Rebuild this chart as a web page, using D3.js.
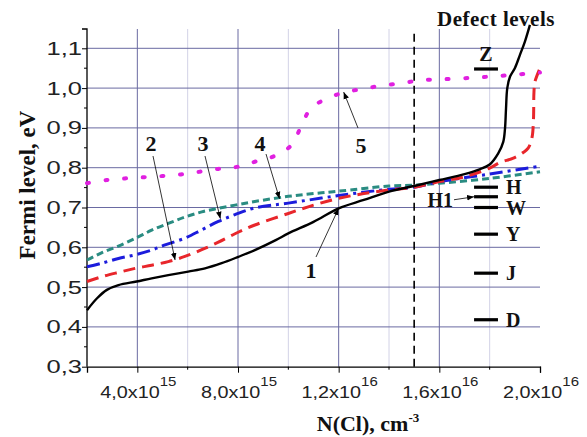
<!DOCTYPE html>
<html>
<head>
<meta charset="utf-8">
<script src="https://cdn.jsdelivr.net/npm/d3@7"></script>
<style>
  body { margin: 0; background: #fff; }
  .tick-label { font-family: "Liberation Sans", Arial, sans-serif; fill: #222; }
  .bold-label { font-family: "Liberation Serif", "Times New Roman", serif; font-weight: bold; fill: #111; }
</style>
</head>
<body>
<script>
const width = 587;
const height = 437;

// N(Cl) in units of 1e15 cm^-3, Fermi level in eV
const curve1X = [2.0, 2.4, 2.79, 3.25, 3.97, 4.57, 5.23, 6.02, 6.69, 7.35, 8.01, 8.67, 9.5, 10, 11, 12, 13, 14, 15, 16, 17, 17.6, 18.0, 18.34, 18.54, 18.61, 18.65, 18.7, 18.81, 19.0, 19.2, 19.4, 19.6];
const curve1Y = [0.442, 0.472, 0.493, 0.505, 0.514, 0.522, 0.530, 0.539, 0.547, 0.560, 0.576, 0.593, 0.618, 0.635, 0.664, 0.698, 0.719, 0.740, 0.754, 0.769, 0.784, 0.796, 0.808, 0.836, 0.865, 0.899, 0.949, 1.000, 1.029, 1.050, 1.083, 1.117, 1.159];

const curve2X = [2.0, 2.58, 3.25, 3.91, 4.57, 5.23, 5.89, 6.56, 7.22, 7.88, 8.67, 10, 11, 12, 13, 14, 15, 16, 17, 18, 18.41, 18.94, 19.33, 19.53, 19.68, 19.74, 19.76, 19.8, 20.0];
const curve2Y = [0.514, 0.526, 0.537, 0.547, 0.555, 0.564, 0.577, 0.594, 0.613, 0.634, 0.656, 0.685, 0.706, 0.723, 0.735, 0.744, 0.751, 0.765, 0.777, 0.799, 0.813, 0.824, 0.838, 0.849, 0.875, 0.920, 0.990, 1.016, 1.050];

const curve3X = [2.0, 2.58, 3.25, 3.91, 4.57, 5.1, 5.89, 6.56, 7.22, 7.88, 8.67, 10, 12, 14, 15, 16, 18, 20];
const curve3Y = [0.551, 0.560, 0.572, 0.581, 0.593, 0.606, 0.623, 0.644, 0.665, 0.682, 0.699, 0.711, 0.730, 0.746, 0.751, 0.765, 0.784, 0.804];

const curve4X = [2.0, 2.58, 3.25, 3.97, 4.57, 5.23, 5.89, 6.56, 7.22, 7.88, 8.67, 10, 11, 12, 14, 15, 16, 18, 20];
const curve4Y = [0.568, 0.586, 0.603, 0.624, 0.643, 0.660, 0.676, 0.689, 0.698, 0.706, 0.715, 0.728, 0.735, 0.741, 0.754, 0.756, 0.761, 0.773, 0.790];

const curve5X = [2.0, 2.78, 3.51, 4.24, 4.99, 5.73, 6.49, 7.22, 7.95, 8.67, 9.4, 10.13, 10.5, 10.9, 11.65, 12.38, 13.11, 13.84, 14.57, 15.3, 16.02, 16.8, 17.55, 18.28, 19.07, 19.8, 20];
const curve5Y = [0.761, 0.769, 0.773, 0.776, 0.779, 0.783, 0.790, 0.797, 0.802, 0.815, 0.828, 0.857, 0.903, 0.949, 0.977, 0.991, 1.000, 1.007, 1.013, 1.020, 1.022, 1.024, 1.027, 1.030, 1.034, 1.038, 1.039];

const xTicks = [4, 8, 12, 16, 20];
const xTickLabels = ["4,0x10", "8,0x10", "1,2x10", "1,6x10", "2,0x10"];
const xTickPowers = ["15", "15", "16", "16", "16"];
const xMinor = [2, 6, 10, 14, 18];
const yTicks = [0.3, 0.4, 0.5, 0.6, 0.7, 0.8, 0.9, 1.0, 1.1];
const yTickLabels = ["0,3", "0,4", "0,5", "0,6", "0,7", "0,8", "0,9", "1,0", "1,1"];

const defectNames = ["Z", "H", "H1", "W", "Y", "J", "D"];
const defectLevels = [1.048, 0.751, 0.727, 0.700, 0.633, 0.535, 0.418];

const crossover = 15; // vertical dashed line

const x = d3.scaleLinear().domain([2, 20]).range([87, 540]);
const y = d3.scaleLinear().domain([0.3, 1.1]).range([366.7, 48.3]);
const yTop = 29;

const svg = d3.select("body").append("svg")
  .attr("width", width)
  .attr("height", height);

// grid
svg.append("g").selectAll("line").data(xMinor.slice(1))
  .enter().append("line")
  .attr("x1", d => x(d)).attr("x2", d => x(d))
  .attr("y1", y(0.3)).attr("y2", yTop)
  .attr("stroke", "#d2d2e6").attr("stroke-width", 1);
svg.append("g").selectAll("line").data(xTicks.slice(0, 4))
  .enter().append("line")
  .attr("x1", d => x(d)).attr("x2", d => x(d))
  .attr("y1", y(0.3)).attr("y2", yTop)
  .attr("stroke", "#6a6aa2").attr("stroke-width", 1);
svg.append("g").selectAll("line").data(yTicks.slice(1))
  .enter().append("line")
  .attr("x1", x(2)).attr("x2", x(20))
  .attr("y1", d => y(d)).attr("y2", d => y(d))
  .attr("stroke", "#6a6aa2").attr("stroke-width", 1);

// axes
const xAxis = d3.axisBottom(x).tickValues(xTicks).tickSize(6).tickFormat("");
const gx = svg.append("g").attr("transform", `translate(0,${y(0.3)})`).call(xAxis);
gx.append("g").selectAll("line").data(xMinor.slice(1))
  .enter().append("line")
  .attr("x1", d => x(d)).attr("x2", d => x(d))
  .attr("y1", 0).attr("y2", 3).attr("stroke", "#000");

const yAxis = d3.axisLeft(y).tickValues(yTicks).tickSize(5).tickFormat("");
const gy = svg.append("g").attr("transform", `translate(${x(2)},0)`).call(yAxis);
gy.select(".domain").attr("d", `M-5,${yTop}H0V${y(0.3)}`);
gy.append("g").selectAll("line").data(d3.range(0.35, 1.15, 0.1))
  .enter().append("line")
  .attr("x1", -3).attr("x2", 0)
  .attr("y1", d => y(d)).attr("y2", d => y(d)).attr("stroke", "#000");
svg.selectAll(".domain").attr("stroke", "#000").attr("stroke-width", 1.3);

// tick labels (the source glyphs are drawn wide, hence the horizontal stretch)
const xl = svg.append("g").selectAll("text").data(xTicks)
  .enter().append("text")
  .attr("class", "tick-label")
  .attr("transform", d => `translate(${x(d) + 1},398) scale(1.2,1)`)
  .attr("text-anchor", "middle")
  .style("font-size", "16.5px");
xl.append("tspan").text((d, i) => xTickLabels[i]);
xl.append("tspan").attr("dy", -12).style("font-size", "12.5px").text((d, i) => xTickPowers[i]);

svg.append("g").selectAll("text").data(yTicks)
  .enter().append("text")
  .attr("class", "tick-label")
  .attr("transform", d => `translate(82,${y(d) + 6.5}) scale(1.42,1)`)
  .attr("text-anchor", "end")
  .style("font-size", "18px")
  .text((d, i) => yTickLabels[i]);

// axis titles
const xt = svg.append("text").attr("class", "bold-label")
  .attr("x", 368).attr("y", 431).attr("text-anchor", "middle")
  .style("font-size", "22px");
xt.append("tspan").text("N(Cl), cm");
xt.append("tspan").attr("dy", -9).style("font-size", "13px").text("-3");

svg.append("text").attr("class", "bold-label")
  .attr("transform", "translate(35,185) rotate(-90)")
  .attr("text-anchor", "middle")
  .style("font-size", "23px")
  .text("Fermi level, eV");

// dashed vertical line
svg.append("line")
  .attr("x1", x(crossover)).attr("x2", x(crossover))
  .attr("y1", y(0.3)).attr("y2", yTop)
  .attr("stroke", "#000").attr("stroke-width", 1.6)
  .attr("stroke-dasharray", "8,5");

// curves
const line = d3.line().x(d => x(d[0])).y(d => y(d[1])).curve(d3.curveCatmullRom.alpha(0.5));
const series = [
  { xs: curve4X, ys: curve4Y, color: "#2a8c82", dash: "7,4", w: 3 },
  { xs: curve3X, ys: curve3Y, color: "#1c1cdc", dash: "13,5,3,5", w: 3 },
  { xs: curve2X, ys: curve2Y, color: "#e8262b", dash: "12,7", w: 3 },
  { xs: curve5X, ys: curve5Y, color: "#e020e0", dash: "2,16.7", w: 4, cap: "round" },
  { xs: curve1X, ys: curve1Y, color: "#000", dash: null, w: 2.4 }
];
series.forEach(s => {
  svg.append("path")
    .datum(s.xs.map((v, i) => [v, s.ys[i]]))
    .attr("d", line)
    .attr("fill", "none")
    .attr("stroke", s.color)
    .attr("stroke-width", s.w)
    .attr("stroke-linecap", s.cap || "butt")
    .attr("stroke-dasharray", s.dash);
});

// arrow marker
svg.append("defs").append("marker")
  .attr("id", "arr").attr("viewBox", "0 0 10 10")
  .attr("refX", 10).attr("refY", 5)
  .attr("markerWidth", 7).attr("markerHeight", 7)
  .attr("markerUnits", "userSpaceOnUse")
  .attr("orient", "auto")
  .append("path").attr("d", "M0,1L10,5L0,9Z").attr("fill", "#000");

// curve number annotations: label, label pos, arrow start, arrow target (data coords)
const notes = [
  { t: "1", lx: 311, ly: 278, sx: 316, sy: 257, tx: 12.0, ty: 0.698 },
  { t: "2", lx: 151, ly: 151, sx: 153, sy: 156, tx: 5.5, ty: 0.568 },
  { t: "3", lx: 203, ly: 151, sx: 205, sy: 156, tx: 7.3, ty: 0.672 },
  { t: "4", lx: 260, ly: 151, sx: 266, sy: 154, tx: 9.65, ty: 0.722 },
  { t: "5", lx: 361, ly: 153, sx: 358, sy: 128, tx: 12.2, ty: 0.99 }
];
notes.forEach(n => {
  svg.append("text").attr("class", "bold-label")
    .attr("x", n.lx).attr("y", n.ly).attr("text-anchor", "middle")
    .style("font-size", "22px").text(n.t);
  svg.append("line")
    .attr("x1", n.sx).attr("y1", n.sy)
    .attr("x2", x(n.tx)).attr("y2", y(n.ty))
    .attr("stroke", "#000").attr("stroke-width", 0.8)
    .attr("marker-end", "url(#arr)");
});

// defect levels
const barX0 = x(17.38), barX1 = x(18.33);
svg.append("g").selectAll("line").data(defectLevels)
  .enter().append("line")
  .attr("x1", barX0).attr("x2", barX1)
  .attr("y1", d => y(d)).attr("y2", d => y(d))
  .attr("stroke", "#000").attr("stroke-width", 3.2);

defectNames.forEach((name, i) => {
  const yy = y(defectLevels[i]);
  if (name === "Z") {
    svg.append("text").attr("class", "bold-label")
      .attr("x", (barX0 + barX1) / 2).attr("y", yy - 8).attr("text-anchor", "middle")
      .style("font-size", "20px").text(name);
  } else if (name === "H1") {
    svg.append("text").attr("class", "bold-label")
      .attr("x", 453).attr("y", yy + 10).attr("text-anchor", "end")
      .style("font-size", "20px").text(name);
    svg.append("line")
      .attr("x1", 454).attr("y1", yy + 3).attr("x2", barX0).attr("y2", yy)
      .attr("stroke", "#000").attr("stroke-width", 0.8)
      .attr("marker-end", "url(#arr)");
  } else {
    svg.append("text").attr("class", "bold-label")
      .attr("x", 506).attr("y", yy + 7)
      .style("font-size", "20px").text(name);
  }
});

svg.append("text").attr("class", "bold-label")
  .attr("x", 496).attr("y", 26).attr("text-anchor", "middle")
  .style("font-size", "21px").style("letter-spacing", "0.5px").text("Defect levels");
</script>
</body>
</html>
